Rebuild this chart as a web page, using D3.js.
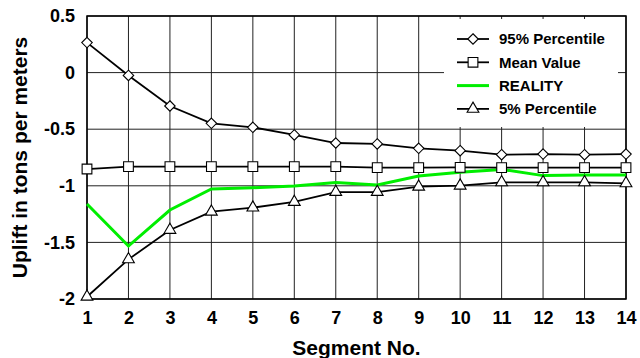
<!DOCTYPE html>
<html>
<head>
<meta charset="utf-8">
<script src="https://cdn.jsdelivr.net/npm/d3@7"></script>
<style>
  body { margin: 0; background: #fff; }
  svg { display: block; font-family: "Liberation Sans", Arial, sans-serif; }
</style>
</head>
<body>
<div id="chart"></div>
<script>
// Data
const segments = [1, 2, 3, 4, 5, 6, 7, 8, 9, 10, 11, 12, 13, 14];
const p95 = [0.265, -0.025, -0.295, -0.448, -0.483, -0.551, -0.622, -0.63, -0.669, -0.69, -0.725, -0.72, -0.725, -0.72];
const meanValue = [-0.852, -0.831, -0.831, -0.831, -0.831, -0.831, -0.831, -0.84, -0.84, -0.837, -0.84, -0.84, -0.84, -0.84];
const reality = [-1.161, -1.532, -1.214, -1.028, -1.017, -1.002, -0.97, -0.993, -0.913, -0.88, -0.855, -0.91, -0.905, -0.905];
const p5 = [-1.98, -1.65, -1.39, -1.229, -1.193, -1.143, -1.055, -1.055, -1.008, -0.999, -0.969, -0.969, -0.969, -0.978];
const yTicks = [0.5, 0, -0.5, -1, -1.5, -2];
const yTickLabels = ["0.5", "0", "-0.5", "-1", "-1.5", "-2"];

const W = 640, H = 358;
const margin = { top: 16, right: 14, bottom: 59, left: 87 };
const width = W - margin.left - margin.right;
const height = H - margin.top - margin.bottom;

const svg = d3.select("#chart")
    .append("svg")
    .attr("width", W)
    .attr("height", H);

const g = svg.append("g")
    .attr("transform", "translate(" + margin.left + "," + margin.top + ")");

const x = d3.scaleLinear().domain([1, 14]).range([0, width]);
const y = d3.scaleLinear().domain([-2, 0.5]).range([height, 0]);

// grid lines
g.append("g")
    .selectAll("line")
    .data(segments)
    .join("line")
    .attr("x1", d => x(d)).attr("x2", d => x(d))
    .attr("y1", 0).attr("y2", height)
    .attr("stroke", "#222").attr("stroke-width", 1);

g.append("g")
    .selectAll("line")
    .data(yTicks)
    .join("line")
    .attr("x1", 0).attr("x2", width)
    .attr("y1", d => y(d)).attr("y2", d => y(d))
    .attr("stroke", "#222").attr("stroke-width", 1);

// legend background (covers grid)
const legendX = 357, legendY = 3;
g.append("rect")
    .attr("x", legendX).attr("y", legendY)
    .attr("width", width - legendX - 8).attr("height", 108)
    .attr("fill", "#fff");

// plot border
g.append("rect")
    .attr("x", 0).attr("y", 0)
    .attr("width", width).attr("height", height)
    .attr("fill", "none")
    .attr("stroke", "#000")
    .attr("stroke-width", 1.5);

// axes (labels only)
const xAxis = g.append("g")
    .attr("transform", "translate(0," + height + ")")
    .call(d3.axisBottom(x).tickValues(segments).tickFormat(d3.format("d")).tickSize(0).tickPadding(12));
xAxis.select(".domain").remove();
xAxis.selectAll("text")
    .style("font-size", "18px")
    .style("font-weight", "bold")
    .attr("fill", "#000");

const yAxis = g.append("g")
    .call(d3.axisLeft(y).tickValues(yTicks).tickFormat((d, i) => yTickLabels[i]).tickSize(0).tickPadding(12));
yAxis.select(".domain").remove();
yAxis.selectAll("text")
    .style("font-size", "18px")
    .style("font-weight", "bold")
    .attr("fill", "#000");

// axis titles
svg.append("text")
    .attr("x", margin.left + width / 2)
    .attr("y", 355)
    .attr("text-anchor", "middle")
    .style("font-size", "21px")
    .style("font-weight", "bold")
    .text("Segment No.");

svg.append("text")
    .attr("transform", "rotate(-90)")
    .attr("x", -(margin.top + height / 2))
    .attr("y", 26.5)
    .attr("text-anchor", "middle")
    .style("font-size", "21px")
    .style("font-weight", "bold")
    .text("Uplift in tons per meters");

const line = d3.line()
    .x((d, i) => x(segments[i]))
    .y(d => y(d));

// markers
const diamond = d3.symbol().type(d3.symbolDiamond2).size(70);
const square = d3.symbol().type(d3.symbolSquare).size(95);
const triangle = d3.symbol().type(d3.symbolTriangle).size(60);

function drawSeries(values, color, lw, sym) {
    g.append("path")
        .datum(values)
        .attr("fill", "none")
        .attr("stroke", color)
        .attr("stroke-width", lw)
        .attr("d", line);
    if (sym) {
        g.append("g")
            .selectAll("path")
            .data(values)
            .join("path")
            .attr("transform", (d, i) => "translate(" + x(segments[i]) + "," + y(d) + ")")
            .attr("d", sym)
            .attr("fill", "#fff")
            .attr("stroke", "#000")
            .attr("stroke-width", 1.1);
    }
}

drawSeries(reality, "#00ee00", 3, null);
drawSeries(p5, "#000", 1.8, triangle);
drawSeries(meanValue, "#000", 1.8, square);
drawSeries(p95, "#000", 1.8, diamond);

// legend
const legendItems = [
    { name: "95% Percentile", color: "#000", lw: 1.8, sym: diamond },
    { name: "Mean Value", color: "#000", lw: 1.8, sym: square },
    { name: "REALITY", color: "#00ee00", lw: 3, sym: null },
    { name: "5% Percentile", color: "#000", lw: 1.8, sym: triangle }
];

const legend = g.append("g")
    .attr("transform", "translate(" + (legendX + 13) + "," + (legendY + 20) + ")");

legendItems.forEach((item, i) => {
    const row = legend.append("g").attr("transform", "translate(0," + (i * 23.3) + ")");
    row.append("line")
        .attr("x1", 0).attr("x2", 32)
        .attr("y1", 0).attr("y2", 0)
        .attr("stroke", item.color)
        .attr("stroke-width", item.lw);
    if (item.sym) {
        row.append("path")
            .attr("transform", "translate(16,0)")
            .attr("d", item.sym)
            .attr("fill", "#fff")
            .attr("stroke", "#000")
            .attr("stroke-width", 1.1);
    }
    row.append("text")
        .attr("x", 42)
        .attr("y", 0)
        .attr("dy", "0.35em")
        .style("font-size", "15px")
        .style("font-weight", "bold")
        .text(item.name);
});
</script>
</body>
</html>
